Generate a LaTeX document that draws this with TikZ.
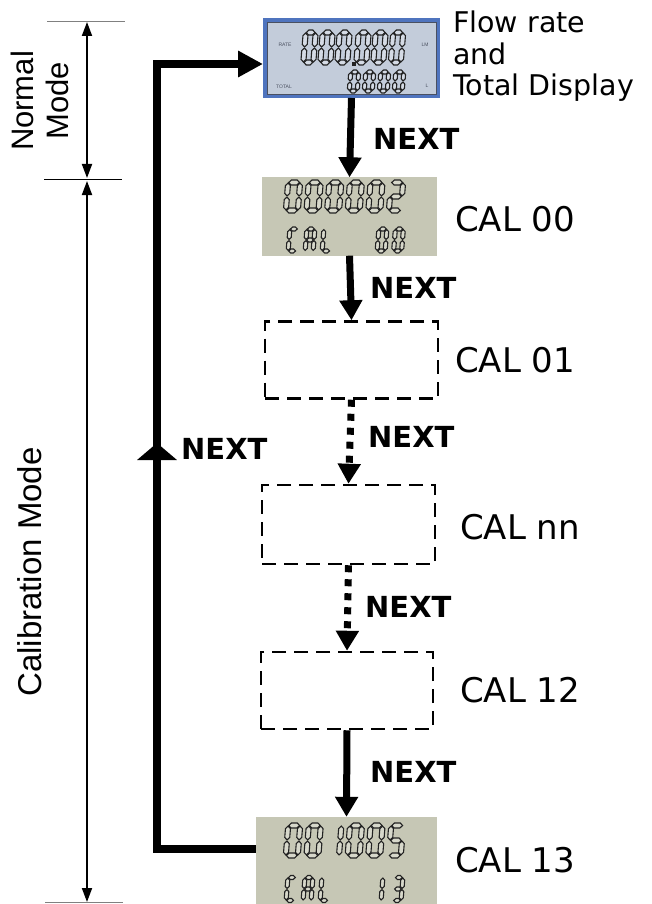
\documentclass[tikz,border=0pt]{standalone}
\usepackage{fontspec}
\setmainfont{DejaVu Sans}
\newfontfamily\arialfont{Liberation Sans}
\usetikzlibrary{arrows.meta}

\definecolor{lcdblue}{HTML}{C3CCDA}
\definecolor{lcdframe}{HTML}{4F74BE}
\definecolor{lcdrim}{HTML}{4A5060}
\definecolor{lcdgray}{HTML}{C6C7B5}
\definecolor{segdark}{HTML}{222222}
\colorlet{seglight}{lcdgray!80!white}

% seven segment digits, segments as bevelled bars
\tikzset{segbar/.style={fill=seglight,draw=segdark,line width=1.1pt,line join=miter}}
\newcommand{\lcdhseg}[3]{%
  \filldraw[segbar] (#1+\segg,#3) -- (#1+\segg+\segh,#3-\segh) -- (#2-\segg-\segh,#3-\segh)
    -- (#2-\segg,#3) -- (#2-\segg-\segh,#3+\segh) -- (#1+\segg+\segh,#3+\segh) -- cycle;}
\newcommand{\lcdvseg}[3]{%
  \filldraw[segbar] (#1,#2+\segg) -- (#1+\segh,#2+\segg+\segh) -- (#1+\segh,#3-\segg-\segh)
    -- (#1,#3-\segg) -- (#1-\segh,#3-\segg-\segh) -- (#1-\segh,#2+\segg+\segh) -- cycle;}
\newcommand{\lcdsega}{\lcdhseg{-\dw}{\dw}{-\dh}}
\newcommand{\lcdsegg}{\lcdhseg{-\dw}{\dw}{0}}
\newcommand{\lcdsegd}{\lcdhseg{-\dw}{\dw}{\dh}}
\newcommand{\lcdsegf}{\lcdvseg{-\dw}{-\dh}{0}}
\newcommand{\lcdsegb}{\lcdvseg{\dw}{-\dh}{0}}
\newcommand{\lcdsege}{\lcdvseg{-\dw}{0}{\dh}}
\newcommand{\lcdsegc}{\lcdvseg{\dw}{0}{\dh}}
\expandafter\def\csname lcdmap0\endcsname{a,b,c,d,e,f}
\expandafter\def\csname lcdmap1\endcsname{b,c}
\expandafter\def\csname lcdmap2\endcsname{a,b,g,e,d}
\expandafter\def\csname lcdmap3\endcsname{a,b,g,c,d}
\expandafter\def\csname lcdmap5\endcsname{a,f,g,c,d}
\expandafter\def\csname lcdmapC\endcsname{a,f,e,d}
\expandafter\def\csname lcdmapA\endcsname{a,b,c,e,f,g}
\expandafter\def\csname lcdmapL\endcsname{f,e,d}
% x, y, width and height between segment centres, thickness, character
\newcommand{\lcddigit}[6]{%
  \begin{scope}[shift={(#1,#2)},xslant=0.08]
    \pgfmathsetmacro{\dw}{#3/2}\pgfmathsetmacro{\dh}{#4/2}%
    \pgfmathsetmacro{\segh}{#5/2}\def\segg{0.6}%
    \edef\seglist{\csname lcdmap#6\endcsname}%
    \foreach \s in \seglist {\csname lcdseg\s\endcsname}
  \end{scope}}

\begin{document}
\begin{tikzpicture}[x=1pt,y=-1pt,
  flow/.style={line width=7pt,-{Triangle[width=22pt,length=20pt]}},
  dotflow/.style={flow,dash pattern=on 7pt off 7pt},
  loopline/.style={line width=8pt,line join=miter,-{Triangle[width=25pt,length=25pt]}},
  calbox/.style={draw,line width=2.5pt,dash pattern=on 14pt off 8pt,inner sep=0,minimum height=77pt},
  lcdbox/.style={fill=lcdgray,inner sep=0},
  lcdtiny/.style={font=\arialfont\fontsize{5}{6}\selectfont,text=lcdrim,inner sep=0},
  nextlbl/.style={font=\fontsize{29}{34}\selectfont\bfseries,anchor=west,inner sep=0},
  callbl/.style={font=\fontsize{34}{40}\selectfont,anchor=west,inner sep=0},
  modelbl/.style={font=\arialfont\fontsize{31}{34.5}\selectfont,rotate=90,inner sep=0,align=center},
  dimline/.style={line width=1.8pt,{Triangle[width=10pt,length=14pt]}-{Triangle[width=10pt,length=14pt]}},
  tickline/.style={line width=1pt,gray}]
\useasboundingbox (0,0) rectangle (651,904);

% displays
\node[draw=lcdframe,fill=lcdblue,line width=4pt,inner sep=0,minimum width=173pt,minimum height=76pt] (disp) at (351.5,58) {};
\draw[lcdrim,line width=0.8pt] ([shift={(4,4)}]disp.north west) rectangle ([shift={(-4,-4)}]disp.south east);
\node[lcdbox,minimum width=175pt,minimum height=78pt] (cal00) at (349.5,216.5) {};
\node[calbox,minimum width=173pt] (cal01) at (351.5,360) {};
\node[calbox,minimum width=173pt,minimum height=79pt] (calnn) at (348.5,524.5) {};
\node[calbox,minimum width=172pt] (cal12) at (347,690.5) {};
\node[lcdbox,minimum width=181pt,minimum height=87pt] (cal13) at (346.5,860.5) {};

% digits on the displays
\colorlet{seglight}{lcdblue!70!white}
\foreach \cx in {309.5,326.5,343.5,362.5,379.5,397} {\lcddigit{\cx}{47.5}{10}{30}{5}{0}}
\fill[segdark] (352,62) rectangle (356,66);
\foreach \cx in {354,369,384,399} {\lcddigit{\cx}{81.5}{8}{19}{4}{0}}
\node[lcdtiny] (ratetxt) at (285,45) {RATE};
\node[lcdtiny] (totaltxt) at (284,87) {TOTAL};
\node[lcdtiny] (lmtxt) at (425,45) {LM};
\node[lcdtiny] (ltxt) at (427,86) {L};
\colorlet{seglight}{lcdgray!70!white}
\foreach \cx/\ch in {293/0,313.6/0,334.2/0,354.8/0,375.4/0,396/2} {\lcddigit{\cx}{196.5}{12}{28}{5}{\ch}}
\foreach \cx/\ch in {293/C,310/A,327/L,382/0,398.5/0} {\lcddigit{\cx}{240}{8}{22}{4}{\ch}}
\foreach \cx/\ch in {293/0,313.6/0,334.2/1,354.8/0,375.4/0,396/5} {\lcddigit{\cx}{840.5}{12}{30}{5}{\ch}}
\foreach \cx/\ch in {291/C,308/A,325/L,378/1,398/3} {\lcddigit{\cx}{889}{8}{23}{4}{\ch}}

% labels
\node[font=\fontsize{28.5}{31.5}\selectfont,align=left,anchor=north west,inner sep=0] (disptxt) at (453,11) {Flow rate\\and\\Total Display};
\node[callbl] (cal00txt) at (455,219) {CAL 00};
\node[callbl] (cal01txt) at (455,360) {CAL 01};
\node[callbl] (calnntxt) at (460,527) {CAL nn};
\node[callbl] (cal12txt) at (460,690) {CAL 12};
\node[callbl] (cal13txt) at (455,860) {CAL 13};

% NEXT steps
\draw[flow] (disp.south) -- (cal00.north);
\draw[flow] (cal00.south) -- (cal01.north);
\draw[dotflow] (cal01.south) -- (calnn.north);
\draw[dotflow] (calnn.south) -- (cal12.north);
\draw[flow] (cal12.south) -- (cal13.north);
\node[nextlbl] (next1) at (373,139) {NEXT};
\node[nextlbl] (next2) at (370,288) {NEXT};
\node[nextlbl] (next3) at (368,437) {NEXT};
\node[nextlbl] (next4) at (365,607) {NEXT};
\node[nextlbl] (next5) at (370,772) {NEXT};

% back to normal mode
\coordinate (loopbot) at (157,849);
\coordinate (looptop) at (157,64);
\coordinate (midtip) at (157,443);
\draw[loopline] (cal13.west |- loopbot) -- (loopbot) -- (looptop) -- (disp.west |- looptop);
\draw[line width=8pt,-{Triangle[width=39pt,length=17pt]}] (loopbot) -- (midtip);
\node[nextlbl] (nextback) at (181,449) {NEXT};

% mode ranges
\coordinate (ntop) at (87,22);
\coordinate (nmid) at (87,179.5);
\coordinate (cbot) at (87,902);
\draw[dimline] (ntop) -- ([yshift=1.5pt]nmid);
\draw[dimline] ([yshift=-1.5pt]nmid) -- (cbot);
\draw[tickline] ([xshift=-40pt]ntop) -- ([xshift=38pt]ntop);
\draw[tickline,black] ([xshift=-43pt]nmid) -- ([xshift=35pt]nmid);
\draw[tickline] ([xshift=-42pt]cbot) -- ([xshift=36pt]cbot);
\node[modelbl] (normtxt) at (40,101) {Normal\\Mode};
\node[modelbl,font=\arialfont\fontsize{33}{36}\selectfont] (caltxt) at (30,572) {Calibration Mode};
\end{tikzpicture}
\end{document}
